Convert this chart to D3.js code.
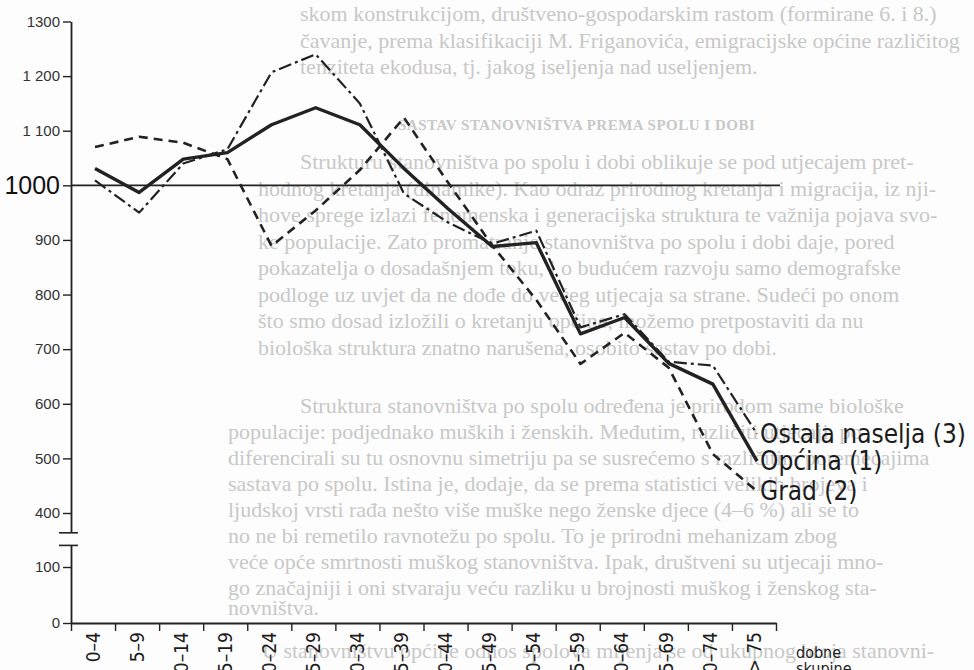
<!DOCTYPE html>
<html>
<head>
<meta charset="utf-8">
<script src="https://cdn.jsdelivr.net/npm/d3@7"></script>
<style>
  html, body { margin: 0; padding: 0; background: #fdfdfd; }
  svg { display: block; }
  .page-text { font-family: 'Liberation Serif', 'DejaVu Serif', serif; font-size: 22px; fill: #c8c8c8; }
  .page-head { font-weight: bold; font-size: 15px; letter-spacing: 0.5px; }
  .y-axis text { font-family: 'Liberation Sans', 'DejaVu Sans', sans-serif; font-size: 15px; fill: #333; }
  .lettering { font-family: 'DejaVu Sans Condensed', 'Liberation Sans Narrow', 'DejaVu Sans', sans-serif; fill: #1c1c1c; }
</style>
</head>
<body>
<div id="chart"></div>
<script>
// age groups (dobne skupine)
const ageGroups= ['0–4', '5–9', '10–14', '15–19', '20–24', '25–29', '30–34', '35–39',
  '40–44', '45–49', '50–54', '55–59', '60–64', '65–69', '70–74', '> 75'];

// index values per age group
const opcina= [1031, 987, 1048, 1060, 1111, 1142, 1111, 1031, 957, 888, 895, 728, 758, 674, 636, 495];
const grad= [1070, 1089, 1078, 1048, 889, 954, 1028, 1124, 1005, 890, 790, 673, 730, 666, 508, 440];
const ostala= [1009, 950, 1040, 1066, 1207, 1240, 1150, 985, 932, 893, 917, 740, 764, 677, 670, 545];

const seriesNames= ['Općina (1)', 'Grad (2)', 'Ostala naselja (3)'];

// y axis (broken between 100 and 400)
const yTicks= [0, 100, 400, 500, 600, 700, 800, 900, 1000, 1100, 1200, 1300];
const yTickLabels= ['0', '100', '400', '500', '600', '700', '800', '900', '1000', '1 100', '1 200', '1300'];
const axisBreak= [220, 290];
const refValue= 1000;

const xTitle= ['dobne', 'skupine'];

// text of the page underneath the figure
const pageLines= [
  {x: 300, y: 13, t: 'skom konstrukcijom, društveno-gospodarskim rastom (formirane 6. i 8.)'},
  {x: 300, y: 40, t: 'čavanje, prema klasifikaciji M. Friganovića, emigracijske općine različitog'},
  {x: 300, y: 66, t: 'tenziteta ekodusa, tj. jakog iseljenja nad useljenjem.'},
  {x: 398, y: 125, t: 'SASTAV STANOVNIŠTVA PREMA SPOLU I DOBI', head: true},
  {x: 300, y: 161, t: 'Strukturu stanovništva po spolu i dobi oblikuje se pod utjecajem pret-'},
  {x: 258, y: 188, t: 'hodnog kretanja (dinamike). Kao odraz prirodnog kretanja i migracija, iz nji-'},
  {x: 258, y: 214, t: 'hove sprege izlazi fenomenska i generacijska struktura te važnija pojava svo-'},
  {x: 258, y: 241, t: 'ke populacije. Zato promatranje stanovništva po spolu i dobi daje, pored'},
  {x: 258, y: 267, t: 'pokazatelja o dosadašnjem toku, i o budućem razvoju samo demografske'},
  {x: 258, y: 294, t: 'podloge uz uvjet da ne dođe do većeg utjecaja sa strane. Sudeći po onom'},
  {x: 258, y: 320, t: 'što smo dosad izložili o kretanju općine, možemo pretpostaviti da nu'},
  {x: 258, y: 347, t: 'biološka struktura znatno narušena, osobito sastav po dobi.'},
  {x: 300, y: 405, t: 'Struktura stanovništva po spolu određena je prirodom same biološke'},
  {x: 228, y: 431, t: 'populacije: podjednako muških i ženskih. Međutim, različiti utjecaji, po-'},
  {x: 228, y: 457, t: 'diferencirali su tu osnovnu simetriju pa se susrećemo s različitim poremećajima'},
  {x: 228, y: 483, t: 'sastava po spolu. Istina je, dodaje, da se prema statistici velikih brojeva i'},
  {x: 228, y: 509, t: 'ljudskoj vrsti rađa nešto više muške nego ženske djece (4–6 %) ali se to'},
  {x: 228, y: 535, t: 'no ne bi remetilo ravnotežu po spolu. To je prirodni mehanizam zbog'},
  {x: 228, y: 561, t: 'veće opće smrtnosti muškog stanovništva. Ipak, društveni su utjecaji mno-'},
  {x: 228, y: 587, t: 'go značajniji i oni stvaraju veću razliku u brojnosti muškog i ženskog sta-'},
  {x: 228, y: 607, t: 'novništva.'},
  {x: 262, y: 650, t: 'U stanovništvu općine odnos spolova mijenja se od ukupnog broja stanovni-'}
];

const width= 974;
const height= 670;
const bg= '#fdfdfd';
const ink= '#222';

const svg= d3.select('#chart').append('svg')
    .attr('width', width)
    .attr('height', height);

// faint page text first, everything else on top
svg.append('g').selectAll('text')
    .data(pageLines)
  .enter().append('text')
    .attr('class', d => d.head ? 'page-text page-head' : 'page-text')
    .attr('x', d => d.x)
    .attr('y', d => d.y)
    .attr('dy', '0.35em')
    .text(d => d.t);

// scales
const y= d3.scaleLinear()
    .domain([0, 100, 400, 1300])
    .range([623, 567, 513, 21.5]);

const xEdge= d3.scaleLinear()
    .domain([0, ageGroups.length])
    .range([71, 776]);

const xBand= d3.scaleBand()
    .domain(ageGroups)
    .range(xEdge.range());

const xPoint= d3.scalePoint()
    .domain(ageGroups)
    .range([95, 757]);

// reference line at 1000
svg.append('line')
    .attr('x1', xEdge(0))
    .attr('x2', 780)
    .attr('y1', y(refValue))
    .attr('y2', y(refValue))
    .attr('stroke', ink)
    .attr('stroke-width', 1.6);

// y axis
const yAxis= svg.append('g')
    .attr('class', 'y-axis')
    .attr('transform', `translate(${xEdge(0)},0)`)
    .call(d3.axisLeft(y)
      .tickValues(yTicks)
      .tickSize(8)
      .tickSizeOuter(0)
      .tickPadding(3)
      .tickFormat((d, i) => yTickLabels[i]));

yAxis.select('.domain').attr('stroke', ink).attr('stroke-width', 1.8);
yAxis.selectAll('.tick line').attr('stroke', ink).attr('stroke-width', 1.4);
yAxis.selectAll('.tick text')
    .filter(d => d === refValue)
    .style('font-size', '25px')
    .style('fill', '#111');

// axis break
svg.append('rect')
    .attr('x', xEdge(0) - 4)
    .attr('width', 8)
    .attr('y', y(axisBreak[1]))
    .attr('height', y(axisBreak[0]) - y(axisBreak[1]))
    .attr('fill', bg);

svg.selectAll('line.break')
    .data(axisBreak)
  .enter().append('line')
    .attr('class', 'break')
    .attr('x1', xEdge(0) - 12)
    .attr('x2', xEdge(0) + 7)
    .attr('y1', d => y(d))
    .attr('y2', d => y(d))
    .attr('stroke', ink)
    .attr('stroke-width', 1.6);

// x axis with ticks on the group boundaries
const xAxis= svg.append('g')
    .attr('transform', `translate(0,${y(0)})`)
    .call(d3.axisBottom(xEdge)
      .tickValues(d3.range(ageGroups.length + 1))
      .tickSize(8)
      .tickSizeOuter(0)
      .tickFormat(''));

xAxis.select('.domain').attr('stroke', ink).attr('stroke-width', 2);
xAxis.selectAll('.tick line').attr('stroke', ink).attr('stroke-width', 1.4);

svg.append('g').selectAll('text')
    .data(ageGroups)
  .enter().append('text')
    .attr('class', 'lettering')
    .attr('transform', d => `translate(${xBand(d) + xBand.bandwidth()/2},${y(0) + 9}) rotate(-90)`)
    .attr('text-anchor', 'end')
    .attr('dy', '0.35em')
    .style('font-size', '19px')
    .text(d => d);

svg.append('g').selectAll('text')
    .data(xTitle)
  .enter().append('text')
    .attr('class', 'lettering')
    .attr('x', xEdge.range()[1] + 20)
    .attr('y', (_, i) => y(0) + 29 + i*16)
    .attr('dy', '0.35em')
    .style('font-size', '16px')
    .text(d => d);

// the three series
const series= [
  {name: seriesNames[0], values: opcina, width: 3.4, dash: null},
  {name: seriesNames[1], values: grad, width: 2.6, dash: '9,6'},
  {name: seriesNames[2], values: ostala, width: 2.2, dash: '13,4,3,4'}
];

const line= d3.line()
    .x((d, i) => xPoint(ageGroups[i]))
    .y(d => y(d));

svg.append('g').selectAll('path')
    .data(series)
  .enter().append('path')
    .attr('d', d => line(d.values))
    .attr('fill', 'none')
    .attr('stroke', ink)
    .attr('stroke-width', d => d.width)
    .attr('stroke-dasharray', d => d.dash)
    .attr('stroke-linejoin', 'round');

// labels at line ends
svg.append('g').selectAll('text')
    .data(series)
  .enter().append('text')
    .attr('class', 'lettering')
    .attr('x', xPoint(ageGroups[ageGroups.length - 1]) + 3)
    .attr('y', d => y(d.values[d.values.length - 1]))
    .attr('dy', '0.35em')
    .style('font-size', '26px')
    .text(d => d.name);
</script>
</body>
</html>
